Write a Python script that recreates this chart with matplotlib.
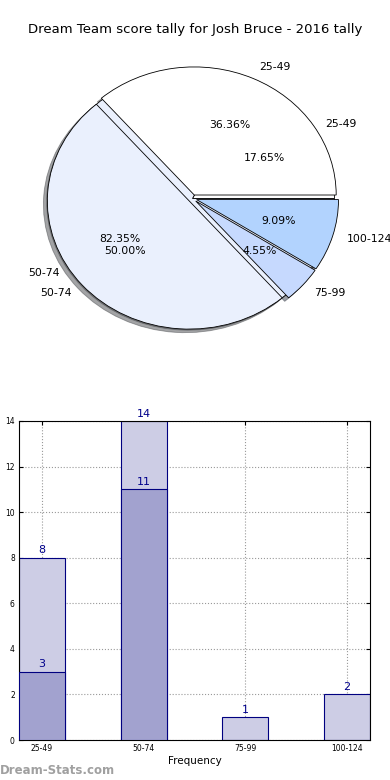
import matplotlib
matplotlib.use("Agg")
import matplotlib.pyplot as plt
import numpy as np

# ── Data ─────────────────────────────────────────────────────────────────────
TITLE = "Dream Team score tally for Josh Bruce - 2016 tally"
RANGES = ["25-49", "50-74", "75-99", "100-124"]

# pie drawn underneath (two buckets)
PIE_B_LABELS = ["25-49", "50-74"]
PIE_B_VALUES = [3, 14]
# pie drawn on top (four buckets)
PIE_A_LABELS = ["25-49", "50-74", "75-99", "100-124"]
PIE_A_VALUES = [8, 11, 1, 2]

# bars
LIGHT_VALUES = [8, 14, 1, 2]
DARK_LABELS = ["25-49", "50-74"]
DARK_VALUES = [3, 11]

# ── Colours ──────────────────────────────────────────────────────────────────
PIE_COLS = ["#FFFFFF", "#EAF0FD", "#C6D9FE", "#B2D3FE"]
C_LIGHT = "#CDCDE5"
C_DARK = "#A2A2CF"
C_EDGE = "#000080"
C_TEXT = "#00008B"

fig = plt.figure(figsize=(3.9, 7.8), dpi=100)
fig.text(0.5, 1 - 30 / 780, TITLE, ha="center", va="center", fontsize=9.5)

# ── Pie ──────────────────────────────────────────────────────────────────────
ax = fig.add_axes([8 / 390, 1 - 365 / 780, 369 / 390, 333 / 780])
wp = {"edgecolor": "black", "linewidth": 0.6}
ax.pie(PIE_B_VALUES, labels=PIE_B_LABELS, colors=PIE_COLS[:2], autopct="%.2f%%",
       shadow=True, wedgeprops=wp, textprops={"fontsize": 7.8})
ax.pie(PIE_A_VALUES, labels=PIE_A_LABELS, colors=PIE_COLS, autopct="%.2f%%",
       explode=[0.03] * len(PIE_A_VALUES), shadow=True, wedgeprops=wp,
       textprops={"fontsize": 7.8})
ax.set_aspect("auto")
ax.set_xlim(-1.3, 1.3)
ax.set_ylim(-1.3, 1.3)
ax.axis("off")

# ── Bars ─────────────────────────────────────────────────────────────────────
bx = fig.add_axes([19 / 390, 40 / 780, 351 / 390, 319 / 780])
x = np.arange(len(RANGES))
xd = np.array([RANGES.index(r) for r in DARK_LABELS])
w = 0.45
bx.bar(x, LIGHT_VALUES, w, color=C_LIGHT, edgecolor=C_EDGE, linewidth=0.8, zorder=2)
bx.bar(xd, DARK_VALUES, w, color=C_DARK, edgecolor=C_EDGE, linewidth=0.8, zorder=3)
for xi, v in zip(x, LIGHT_VALUES):
    bx.text(xi, v + 0.1, str(v), ha="center", va="bottom", fontsize=8, color=C_TEXT)
for xi, v in zip(xd, DARK_VALUES):
    bx.text(xi, v + 0.1, str(v), ha="center", va="bottom", fontsize=8, color=C_TEXT, zorder=4)

bx.set_xlim(-w / 2, len(RANGES) - 1 + w / 2)
bx.set_ylim(0, 14)
bx.set_yticks(range(0, 15, 2))
bx.set_xticks(x)
bx.set_xticklabels(RANGES)
bx.tick_params(labelsize=5.5, direction="in", length=3, pad=3, top=True, right=True)
bx.grid(True, linestyle=":", color="#999999", linewidth=0.8, zorder=0)
bx.set_axisbelow(True)
bx.set_xlabel("Frequency", fontsize=7.5, labelpad=2)

fig.text(0.0, 1 - 770 / 780, "Dream-Stats.com", ha="left", va="center",
         fontsize=8.5, fontweight="bold", color="#A0A0A0")

fig.savefig("out.png", dpi=100)
